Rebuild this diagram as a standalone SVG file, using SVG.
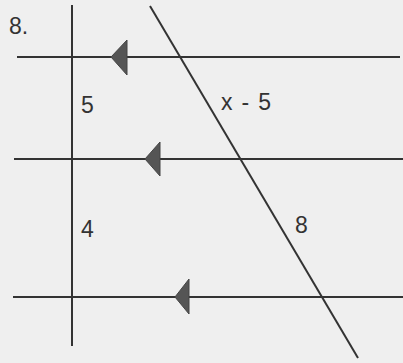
<svg xmlns="http://www.w3.org/2000/svg" width="403" height="363" viewBox="0 0 403 363">
<style>
.ln{stroke:#333;stroke-width:2;fill:none}
.ar{fill:#555;stroke:#444;stroke-width:1}
.t{font-family:"Liberation Sans",Arial,sans-serif;font-size:23px;fill:#333}
</style>
<rect width="403" height="363" fill="#efefef"/>
<g id="lines">
<line class="ln" x1="72" y1="5" x2="72" y2="346"/>
<line class="ln" x1="17" y1="57" x2="400" y2="57"/>
<line class="ln" x1="14" y1="159" x2="403" y2="159"/>
<line class="ln" x1="13" y1="297" x2="403" y2="297"/>
<line class="ln" x1="150" y1="6" x2="358" y2="358"/>
</g>
<g id="arrows">
<polygon class="ar" points="111,57 127,40 127,75"/>
<polygon class="ar" points="145,159 160,142 160,176"/>
<polygon class="ar" points="175,297 189,279 189,314"/>
</g>
<g id="labels">
<text class="t" x="9" y="34">8.</text>
<text class="t" x="81" y="113">5</text>
<text class="t" x="221" y="110" textLength="50" lengthAdjust="spacing">x - 5</text>
<text class="t" x="81" y="237">4</text>
<text class="t" x="295" y="233">8</text>
</g>
</svg>
